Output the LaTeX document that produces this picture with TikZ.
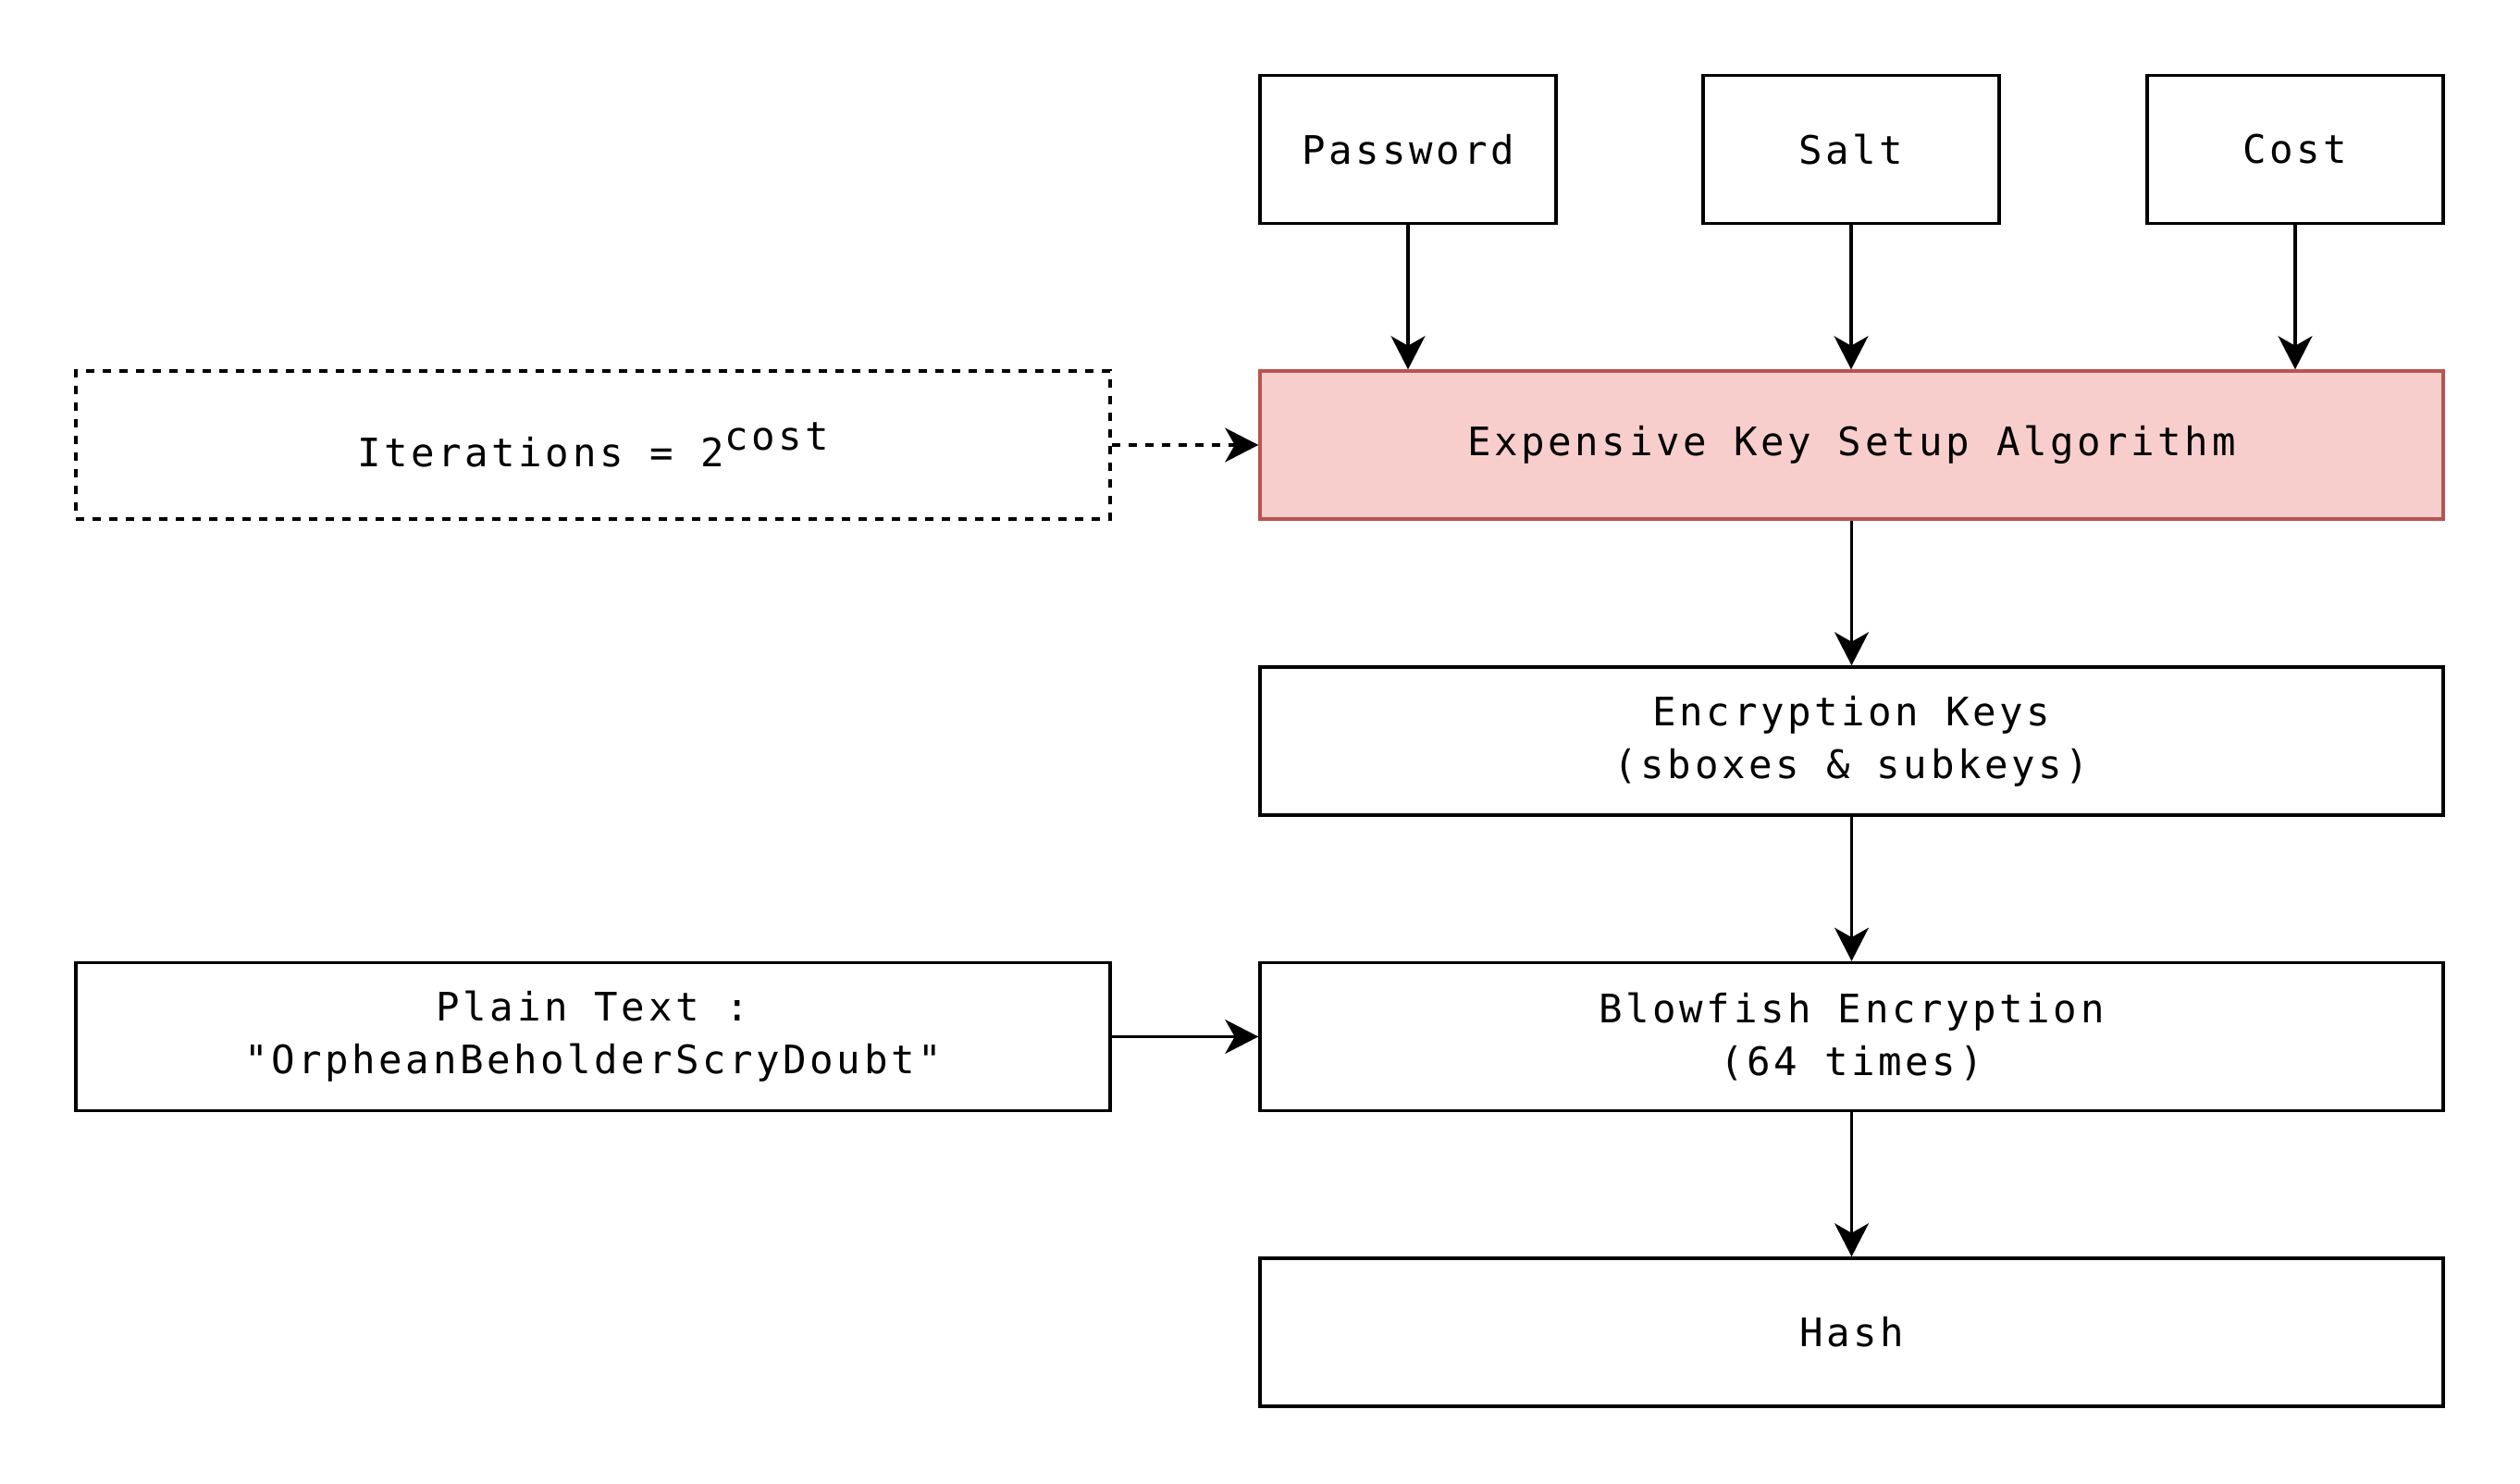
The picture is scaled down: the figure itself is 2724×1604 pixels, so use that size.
\documentclass[tikz,border=0pt]{standalone}
\usepackage{fontspec}
\newfontfamily\dmono{DejaVu Sans Mono}[LetterSpace=8.5]
\usetikzlibrary{arrows.meta}
\definecolor{pinkfill}{HTML}{F8CECC}
\definecolor{pinkline}{HTML}{B85450}
\begin{document}
\begin{tikzpicture}[x=0.25pt,y=-0.25pt,
  box/.style={draw=black,line width=0.85pt,fill=white,rectangle,inner sep=0pt,
    minimum height=40pt,align=center,font=\dmono\fontsize{10.6}{14.3}\selectfont},
  small/.style={box,minimum width=80pt},
  wide/.style={box,minimum width=319.75pt},
  left/.style={box,minimum width=279.5pt},
  conn/.style={line width=0.9pt,-{Stealth[length=9pt,width=9.2pt,inset=2.6pt]}}]
\useasboundingbox (0,0) rectangle (2724,1604);
\node[small] (pw) at (1522,161.5) {Password};
\node[small] (salt) at (2001,161.5) {Salt};
\node[small] (cost) at (2481,161.5) {Cost};
\node[wide,fill=pinkfill,draw=pinkline] (exp) at (2001.5,481) {Expensive Key Setup Algorithm};
\node[left,dash pattern=on 2.25pt off 2.25pt] (iter) at (641,481) {Iterations = 2\raisebox{0.42em}{cost}};
\node[wide] (keys) at (2001.5,801) {Encryption Keys\\(sboxes \& subkeys)};
\node[left] (plain) at (641,1120.5) {Plain Text :\\"OrpheanBeholderScryDoubt"};
\node[wide] (blow) at (2001.5,1120.5) {Blowfish Encryption\\(64 times)};
\node[wide] (hash) at (2001.5,1440) {Hash};
\draw[conn] (pw.south) -- (pw.south |- exp.north);
\draw[conn] (salt.south) -- (salt.south |- exp.north);
\draw[conn] (cost.south) -- (cost.south |- exp.north);
\draw[conn,dash pattern=on 2.25pt off 2.25pt] (iter.east) -- (exp.west);
\draw[conn] (exp.south) -- (keys.north);
\draw[conn] (keys.south) -- (blow.north);
\draw[conn] (plain.east) -- (blow.west);
\draw[conn] (blow.south) -- (hash.north);
\end{tikzpicture}
\end{document}
